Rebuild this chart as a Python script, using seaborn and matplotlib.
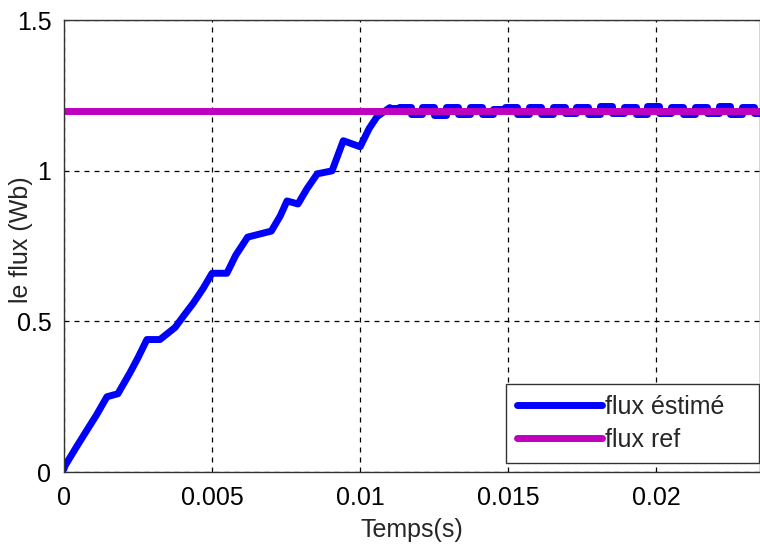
import numpy as np
import pandas as pd
import matplotlib
matplotlib.use("Agg")
import matplotlib.pyplot as plt
import seaborn as sns

# estimated flux (rise phase)
t_rise = [0.0, 0.00003, 0.0004, 0.00078, 0.0011, 0.00145, 0.00182, 0.00223, 0.0025, 0.0028,
          0.00324, 0.00375, 0.00405, 0.00436, 0.0047, 0.005, 0.0055, 0.0058, 0.0062, 0.007,
          0.0073, 0.00753, 0.0079, 0.0082, 0.00855, 0.00905, 0.00943, 0.01, 0.0103, 0.01057, 0.011]
flux_rise = [0.01, 0.02, 0.08, 0.14, 0.19, 0.25, 0.26, 0.33, 0.38, 0.44,
             0.44, 0.48, 0.52, 0.56, 0.61, 0.66, 0.66, 0.72, 0.78, 0.80,
             0.85, 0.90, 0.89, 0.94, 0.99, 1.0, 1.10, 1.08, 1.14, 1.18, 1.21]

# steady state ripple around the reference (piecewise constant)
t_ss = [0.011, 0.0113, 0.0117, 0.0121, 0.0125, 0.0129, 0.0133, 0.0137, 0.0141, 0.0145, 0.0149,
        0.0153, 0.0157, 0.0161, 0.0165, 0.0169, 0.0173, 0.0177, 0.0181, 0.0185, 0.0189,
        0.0193, 0.0197, 0.0201, 0.0205, 0.0209, 0.0213, 0.0217, 0.0221, 0.0225, 0.0229,
        0.0233, 0.0236]
flux_ss = [1.21, 1.213, 1.188, 1.212, 1.187, 1.212, 1.19, 1.211, 1.189, 1.204, 1.212,
           1.19, 1.211, 1.189, 1.213, 1.191, 1.212, 1.189, 1.215, 1.191, 1.213,
           1.19, 1.215, 1.192, 1.213, 1.19, 1.212, 1.191, 1.214, 1.19, 1.213,
           1.191, 1.212]

flux_ref = 1.2
x_ticks = [0, 0.005, 0.01, 0.015, 0.02]
x_labels = ["0", "0.005", "0.01", "0.015", "0.02"]
y_ticks = [0, 0.5, 1, 1.5]
y_labels = ["0", "0.5", "1", "1.5"]

df_rise = pd.DataFrame({"t": t_rise, "flux": flux_rise})
df_ss = pd.DataFrame({"t": t_ss, "flux": flux_ss})
df_ref = pd.DataFrame({"t": [0, 0.0236], "flux": [flux_ref, flux_ref]})

sns.set_style("white")
plt.rcParams["font.family"] = ["Liberation Sans", "DejaVu Sans"]

fig = plt.figure(figsize=(7.6, 5.47), dpi=100)
ax = fig.add_axes([0.0842, 0.137, 0.9158, 0.826])

sns.lineplot(data=df_rise, x="t", y="flux", sort=False, estimator=None,
             color="#0000FF", linewidth=5, label="flux éstimé", ax=ax)
sns.lineplot(data=df_ss, x="t", y="flux", sort=False, estimator=None,
             color="#0000FF", linewidth=5, drawstyle="steps-post", legend=False, ax=ax)
sns.lineplot(data=df_ref, x="t", y="flux", sort=False, estimator=None,
             color="#BF00BF", linewidth=5, label="flux ref", ax=ax)

ax.set_xlim(0, 0.0235)
ax.set_ylim(0, 1.5)
ax.set_xticks(x_ticks)
ax.set_xticklabels(x_labels)
ax.set_yticks(y_ticks)
ax.set_yticklabels(y_labels)
ax.tick_params(direction="in", length=4, labelsize=18, colors="black")
ax.tick_params(axis="x", pad=10)
ax.tick_params(axis="y", pad=9)
ax.grid(True, color="black", linestyle=(0, (4, 4)), linewidth=0.9)
for s in ax.spines.values():
    s.set_color("#333333")
    s.set_linewidth(1.0)

ax.set_xlabel("Temps(s)", fontsize=18, labelpad=6)
ax.set_ylabel("le flux (Wb)", fontsize=18)
ax.yaxis.set_label_coords(-0.045, 0.515)

leg = ax.legend(loc="lower left", bbox_to_anchor=(0.635, 0.02, 0.3635, 0.18), mode="expand",
                borderaxespad=0, fontsize=18, handlelength=3.4, handletextpad=0.12,
                borderpad=0.45, labelspacing=0.35, fancybox=False, framealpha=1,
                edgecolor="#333333")
leg.get_frame().set_linewidth(1.0)

fig.savefig("out.png", dpi=100)
